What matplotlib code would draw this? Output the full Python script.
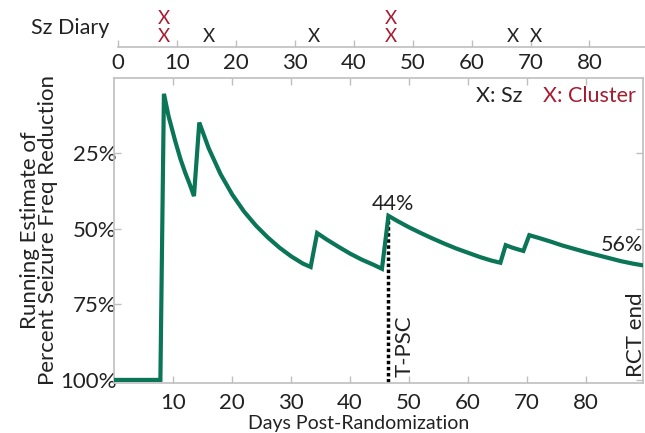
import matplotlib
matplotlib.use('Agg')
import matplotlib.pyplot as plt

plt.rcParams['font.family'] = ['Lato', 'DejaVu Sans']

# Running estimate (days, percent reduction)
days = [0, 7.8, 8.4, 9.2, 10.3, 11.2, 12.0, 12.8, 13.5,
        14.4, 16, 18, 20, 22, 24, 26, 28, 30, 32, 33.3,
        34.4, 36, 38, 40, 42, 44, 45.4,
        46.5, 48, 50, 52, 54, 56, 58, 60, 62, 64, 65.5,
        66.4, 67.5, 68.5, 69.4,
        70.4, 72, 74, 76, 78, 80, 82, 84, 86, 88, 89.8]
reduction = [100, 100, 5.5, 13, 21, 27, 31.5, 35.5, 39.3,
             15, 23.5, 32, 38.8, 44.4, 49, 52.9, 56.3, 59.2, 61.6, 62.7,
             51.5, 53.6, 56, 58.3, 60.3, 62, 63.3,
             45.8, 47.5, 49.6, 51.5, 53.3, 55, 56.6, 58, 59.4, 60.6, 61.3,
             55.5, 56.3, 56.9, 57.4,
             52.2, 53.1, 54.3, 55.6, 56.7, 57.8, 58.8, 59.8, 60.8, 61.6, 62.2]

# Seizure diary events
sz_days = [15.4, 33.2, 67.0, 70.9]
cluster_days = [7.7, 46.3]

tpsc_day = 46.5
tpsc_value = 45.8

green = '#0a7557'
red = '#a51c30'
gray = '#bfbfbf'
txt = '#222222'

fig = plt.figure(figsize=(6.45, 4.33), dpi=100)

# main panel
ax = fig.add_axes([0.1774, 0.1163, 0.8195, 0.7035])
ax.plot(days, reduction, color=green, lw=3, solid_joinstyle='miter', zorder=3)
ax.plot([tpsc_day, tpsc_day], [100.6, tpsc_value], color='black', lw=2.5,
        linestyle=(0, (1, 0.75)), zorder=2)

ax.set_xlim(0, 89.7)
ax.set_ylim(100.9, 0.3)
ax.set_xticks([10, 20, 30, 40, 50, 60, 70, 80])
ax.set_yticks([25, 50, 75, 100])
ax.set_yticklabels(['25%', '50%', '75%', '100%'])
ax.tick_params(direction='in', length=5, width=1, color=gray, labelsize=16,
               labelcolor=txt, top=True, right=True)
ax.tick_params(axis='y', pad=-1.5)
ax.tick_params(axis='x', pad=7.5)
for s in ax.spines.values():
    s.set_color(gray)
    s.set_linewidth(1.2)

fig.text(0.5566, 0.0092, 'Days Post-Randomization', ha='center', va='baseline',
         fontsize=14, color=txt)
fig.text(0.0605, 0.469, 'Running Estimate of\nPercent Seizure Freq Reduction',
         rotation=90, ha='center', va='center', fontsize=16, color=txt,
         linespacing=0.9)

ax.text(47.2, 43.8, '44%', ha='center', va='baseline', fontsize=15.5, color=txt)
ax.text(89.7, 57.4, '56%', ha='right', va='baseline', fontsize=15.5, color=txt)
ax.text(50.2, 98.9, 'T-PSC', rotation=90, rotation_mode='anchor', ha='left',
        va='baseline', fontsize=16, color=txt)
ax.text(89.5, 98.9, 'RCT end', rotation=90, rotation_mode='anchor', ha='left',
        va='baseline', fontsize=16, color=txt)
ax.text(61.4, 8.1, 'X: Sz', ha='left', va='baseline', fontsize=15.5, color=txt)
ax.text(72.8, 8.1, 'X: Cluster', ha='left', va='baseline', fontsize=15.5,
        color=red)

# seizure diary strip
axd = fig.add_axes([0.183, 0.892, 0.8195, 0.108])
axd.set_xlim(0, 89.7)
axd.set_ylim(0, 1)
for d in sz_days:
    axd.text(d, 0.214, 'X', ha='center', va='center', fontsize=13.5, color=txt)
for d in cluster_days:
    axd.text(d, 0.214, 'X', ha='center', va='center', fontsize=13.5, color=red)
    axd.text(d, 0.608, 'X', ha='center', va='center', fontsize=13.5, color=red)
axd.set_xticks([0, 10, 20, 30, 40, 50, 60, 70, 80])
axd.set_yticks([])
axd.tick_params(axis='x', direction='in', length=5, width=1, color=gray,
                labelsize=16, labelcolor=txt, pad=4.5)
for k in ['top', 'left', 'right']:
    axd.spines[k].set_visible(False)
axd.spines['bottom'].set_color(gray)
axd.spines['bottom'].set_linewidth(1.2)
axd.patch.set_alpha(0)
axd.text(-0.016, 0.40, 'Sz Diary', transform=axd.transAxes, ha='right',
         va='center', fontsize=15.5, color=txt)

fig.savefig('out.png', dpi=100)
